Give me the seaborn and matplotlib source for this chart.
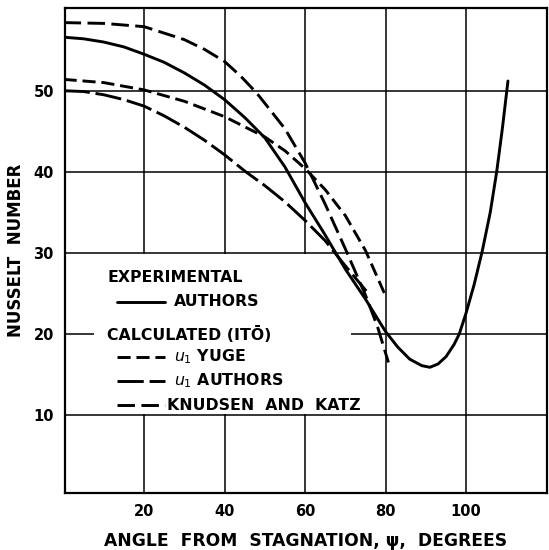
import matplotlib
matplotlib.use("Agg")
import matplotlib.pyplot as plt
import seaborn as sns
import pandas as pd
from matplotlib.patches import Rectangle

# ---- data ----
exp_x = [0, 5, 10, 15, 20, 25, 30, 35, 40, 45, 50, 55, 60, 65, 70, 75, 80, 83, 86, 89, 91, 93, 95, 97, 98.3, 100, 102, 104, 106, 107.6, 109, 110.4]
exp_y = [56.6, 56.4, 56.0, 55.4, 54.5, 53.5, 52.2, 50.7, 48.9, 46.7, 44.2, 40.6, 36.2, 32.2, 28.0, 24.3, 20.3, 18.4, 16.9, 16.1, 15.9, 16.3, 17.2, 18.7, 20.0, 22.6, 26.1, 30.2, 35.0, 40.0, 45.3, 51.2]

yuge_x = [0, 10, 20, 30, 40, 50, 55, 60, 65, 70, 75, 80]
yuge_y = [51.4, 51.0, 50.1, 48.7, 46.8, 44.3, 42.6, 40.4, 37.8, 34.6, 30.3, 24.7]

u1a_x = [0, 5, 10, 15, 20, 25, 30, 35, 40, 45, 50, 55, 60, 65, 70, 75.2]
u1a_y = [50.0, 49.9, 49.5, 48.9, 48.1, 46.9, 45.5, 43.9, 42.1, 40.1, 38.3, 36.3, 34.0, 31.5, 28.4, 25.3]

kk_x = [0, 10, 20, 30, 35, 40, 44, 48, 52, 55, 60, 65, 70, 75, 78, 80.7]
kk_y = [58.4, 58.3, 57.9, 56.3, 55.1, 53.6, 51.8, 49.7, 47.2, 45.3, 41.1, 36.0, 30.5, 24.8, 20.9, 16.5]

x_ticks = [20, 40, 60, 80, 100]
y_ticks = [10, 20, 30, 40, 50]

sns.set_style("white")
plt.rcParams["font.family"] = ["DejaVu Sans"]
plt.rcParams["text.color"] = "black"
plt.rcParams["axes.labelcolor"] = "black"
plt.rcParams["xtick.color"] = "black"
plt.rcParams["ytick.color"] = "black"

fig = plt.figure(figsize=(5.49, 5.50), dpi=100)
ax = fig.add_axes([65 / 549, 1 - 493 / 550, (547 - 65) / 549, (493 - 8) / 550])

LW = 2.1
YUGE_LS = (0, (4.5, 2.0))
U1A_LS = (0, (9, 2.0))
KK_LS = (0, (6, 2.2))
sns.lineplot(x=exp_x, y=exp_y, ax=ax, color="black", lw=LW, sort=False, zorder=3)
sns.lineplot(x=yuge_x, y=yuge_y, ax=ax, color="black", lw=LW, sort=False,
             linestyle=YUGE_LS, zorder=3)
sns.lineplot(x=u1a_x, y=u1a_y, ax=ax, color="black", lw=LW, sort=False,
             linestyle=U1A_LS, zorder=3)
sns.lineplot(x=kk_x, y=kk_y, ax=ax, color="black", lw=LW, sort=False,
             linestyle=KK_LS, zorder=3)

ax.set_xlim(0.35, 120.1)
ax.set_ylim(0.4, 60.2)
ax.set_xticks(x_ticks)
ax.set_yticks(y_ticks)
ax.grid(True, color="black", lw=1.1)
ax.set_axisbelow(True)
for s in ax.spines.values():
    s.set_color("black")
    s.set_linewidth(1.6)
ax.tick_params(axis="both", length=0, pad=8, labelsize=10.5, colors="black")
for lab in ax.get_xticklabels() + ax.get_yticklabels():
    lab.set_fontweight("bold")

# white area behind the key
ax.add_patch(Rectangle((7.6, 10.2), 63.8, 19.65, facecolor="white",
                       edgecolor="none", zorder=1))

tkw = dict(fontsize=11.3, fontweight="bold", va="center", ha="left", zorder=4,
           color="black")
ax.text(10.8, 27.0, "EXPERIMENTAL", **tkw)
ax.plot([13.3, 25.2], [24.0, 24.0], color="black", lw=LW, zorder=4)
ax.text(27.5, 24.0, "AUTHORS", **tkw)
ax.text(10.8, 20.0, "CALCULATED (IT\u014c)", **tkw)
ax.plot([13.3, 25.2], [17.2, 17.2], color="black", lw=LW, ls=YUGE_LS, zorder=4)
ax.text(27.5, 17.2, r"$\mathit{u}_{1}$ YUGE", **tkw)
ax.plot([13.3, 25.2], [14.2, 14.2], color="black", lw=LW, ls=U1A_LS, zorder=4)
ax.text(27.5, 14.2, r"$\mathit{u}_{1}$ AUTHORS", **tkw)
ax.plot([13.3, 25.2], [11.2, 11.2], color="black", lw=LW, ls=KK_LS, zorder=4)
ax.text(25.6, 11.2, "KNUDSEN  AND  KATZ", **tkw)

ax.set_xlabel("ANGLE  FROM  STAGNATION, \u03c8,  DEGREES", fontsize=12.3,
              fontweight="bold", labelpad=9)
ax.set_ylabel("NUSSELT  NUMBER", fontsize=12, fontweight="bold", labelpad=6)

fig.savefig("out.png", dpi=100)
